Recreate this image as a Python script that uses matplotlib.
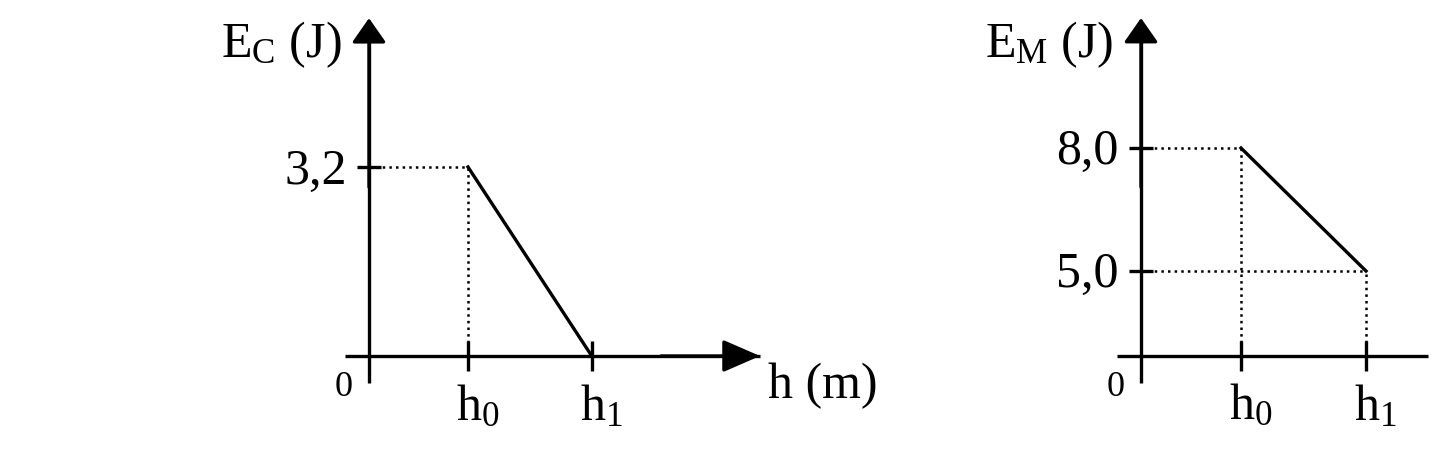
import numpy as np
import matplotlib
matplotlib.use("Agg")
import matplotlib.pyplot as plt

# symbolic heights (h0 = 1 unit, h1 a bit more than twice)
h_ticks = [1.0, 2.25]
h_labels = [r"h$_0$", r"h$_1$"]

# kinetic energy Ec(h)
ec_h = [1.0, 2.25]
ec_vals = [3.2, 0.0]
ec_tick_label = "3,2"

# mechanical energy Em(h)
em_h = [1.0, 2.25]
em_vals = [8.0, 5.0]
em_tick_labels = ["8,0", "5,0"]

plt.rcParams["font.family"] = ["Liberation Serif", "DejaVu Serif"]
plt.rcParams["mathtext.fontset"] = "custom"
plt.rcParams["mathtext.rm"] = "Liberation Serif"
plt.rcParams["mathtext.it"] = "Liberation Serif"

FS = 36
LW = 2.4

fig = plt.figure(figsize=(14.46, 4.66), dpi=100)


def arrow(ax, start, end, hl, hw):
    ax.annotate("", xy=end, xytext=start,
                arrowprops=dict(arrowstyle=f"-|>,head_length={hl},head_width={hw}",
                                lw=LW, color="k", mutation_scale=1,
                                shrinkA=0, shrinkB=0))


def draw_frame(ax, base, y_low, y_tip, x_end, x_arrow, ylab):
    # vertical axis with arrow head
    ax.plot([0, 0], [y_low, y_tip - 0.2 * (y_tip - base) / 5.7], color="k",
            lw=LW, solid_capstyle="butt")
    arrow(ax, (0, base + 0.5 * (y_tip - base)), (0, y_tip), 15, 10.5)
    # horizontal axis
    ax.plot([-0.24, x_end], [base, base], color="k", lw=LW,
            solid_capstyle="butt")
    if x_arrow:
        arrow(ax, (x_end - 1.0, base), (x_end, base), 23, 10)
    # h ticks and labels
    ax.plot(h_ticks, [base] * len(h_ticks), ls="none", marker="|",
            ms=21, mew=LW, color="k")
    for x, lab in zip(h_ticks, h_labels):
        ax.annotate(lab, xy=(x, base), xytext=(7, -37),
                    textcoords="offset points", ha="center", va="center",
                    fontsize=FS)
    ax.annotate("0", xy=(0, base), xytext=(-18, -23),
                textcoords="offset points", ha="center", va="center",
                fontsize=26)
    ax.annotate(ylab, xy=(0, y_tip), xytext=(-20, -19),
                textcoords="offset points", ha="right", va="center",
                fontsize=FS)


def y_ticks(ax, vals, labels):
    ax.plot([0] * len(vals), vals, ls="none", marker="_", ms=17, mew=LW,
            color="k")
    for v, lab in zip(vals, labels):
        ax.annotate(lab, xy=(0, v), xytext=(-16, -3),
                    textcoords="offset points", ha="right", va="center",
                    fontsize=FS)


# ---- left panel: Ec ----
ax1 = fig.add_axes([200 / 1446, 0, 700 / 1446, 1])
ax1.set_xlim(-169 / 99, 531 / 99)
ax1.set_ylim(-110 / 59.06, 356 / 59.06)
ax1.axis("off")
draw_frame(ax1, 0.0, -0.46, 5.72, 3.95, True, r"E$_\mathrm{C}$ (J)")
y_ticks(ax1, [ec_vals[0]], [ec_tick_label])
ax1.plot([0, ec_h[0]], [ec_vals[0], ec_vals[0]], color="k", ls=":", lw=1.8)
ax1.plot([ec_h[0], ec_h[0]], [0, ec_vals[0]], color="k", ls=":", lw=1.8)
ax1.plot(ec_h, ec_vals, color="k", lw=LW)
ax1.text(4.03, -0.5, "h (m)", fontsize=FS, ha="left", va="center")

# ---- right panel: Em (vertical axis not to scale, origin offset) ----
em_base = 2.93
ax2 = fig.add_axes([980 / 1446, 0, 466 / 1446, 1])
ax2.set_xlim(-161 / 100, 305 / 100)
ax2.set_ylim(5 - 195 / 41, 5 + 271 / 41)
ax2.axis("off")
draw_frame(ax2, em_base, 2.27, 11.17, 2.87, False, r"E$_\mathrm{M}$ (J)")
y_ticks(ax2, em_vals, em_tick_labels)
for x, v in zip(em_h, em_vals):
    ax2.plot([0, x], [v, v], color="k", ls=":", lw=1.8)
    ax2.plot([x, x], [em_base, v], color="k", ls=":", lw=1.8)
ax2.plot(em_h, em_vals, color="k", lw=LW)

fig.savefig("out.png", dpi=100)
